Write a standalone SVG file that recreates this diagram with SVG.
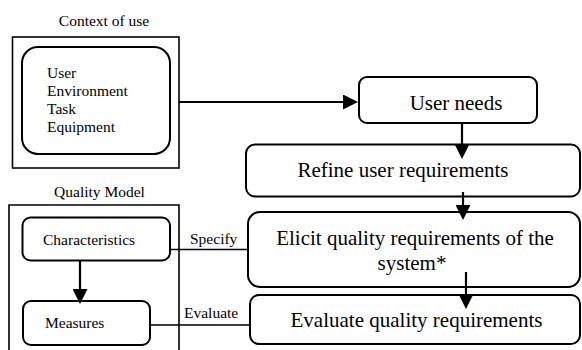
<svg xmlns="http://www.w3.org/2000/svg" width="582" height="350" viewBox="0 0 582 350">
<style>
  text { font-family: "Liberation Serif", "Times New Roman", serif; fill: #000; }
  .big { font-size: 21px; text-anchor: middle; }
  .small { font-size: 15.5px; }
  .title { font-size: 15.5px; text-anchor: middle; }
  .frame { fill: #fff; stroke: #000; stroke-width: 1.6; }
  .node { fill: #fff; stroke: #000; stroke-width: 2; }
  .arrow { stroke: #000; stroke-width: 2.2; fill: none; marker-end: url(#ah); }
  .link { stroke: #000; stroke-width: 1.5; fill: none; }
</style>
<defs>
  <marker id="ah" markerUnits="userSpaceOnUse" markerWidth="15" markerHeight="15" refX="10" refY="7.5" orient="auto">
    <path d="M0,0 L15,7.5 L0,15 Z" fill="#000"/>
  </marker>
</defs>
<rect width="582" height="350" fill="#fff"/>

<g id="context-of-use">
  <text class="title" x="104" y="26">Context of use</text>
  <rect class="frame" x="12.5" y="37" width="166.5" height="131"/>
  <rect class="node" x="22" y="47" width="148" height="107" rx="16"/>
  <text class="small" x="47" y="78">User</text>
  <text class="small" x="47" y="96">Environment</text>
  <text class="small" x="47" y="114">Task</text>
  <text class="small" x="47" y="132">Equipment</text>
</g>

<g id="quality-model">
  <text class="title" x="99.5" y="197">Quality Model</text>
  <path class="frame" d="M9,352 V205 H179 V352" />
</g>

<g id="characteristics">
  <rect class="node" x="22.5" y="217.5" width="147.5" height="43" rx="8"/>
  <text class="small" x="43" y="245">Characteristics</text>
</g>

<g id="measures">
  <rect class="node" x="23" y="301" width="127" height="44" rx="8"/>
  <text class="small" x="45" y="328">Measures</text>
</g>

<g id="user-needs">
  <rect class="node" x="359" y="77" width="178" height="46" rx="8"/>
  <text class="big" x="456" y="110">User needs</text>
</g>

<g id="refine">
  <rect class="node" x="246" y="144.5" width="334" height="52" rx="9"/>
  <text class="big" x="403" y="177">Refine user requirements</text>
</g>

<g id="elicit">
  <rect class="node" x="248" y="212" width="332" height="75" rx="12"/>
  <text class="big" x="415" y="245">Elicit quality requirements of the</text>
  <text class="big" x="412" y="270">system*</text>
</g>

<g id="evaluate">
  <rect class="node" x="250" y="295" width="330" height="49" rx="9"/>
  <text class="big" x="416.5" y="327">Evaluate quality requirements</text>
</g>

<g id="connectors">
  <line class="arrow" x1="179" y1="102" x2="353" y2="102"/>
  <line class="arrow" x1="462" y1="123" x2="462" y2="154"/>
  <line class="arrow" x1="463" y1="192" x2="463" y2="215"/>
  <line class="arrow" x1="466" y1="272" x2="466" y2="304"/>
  <line class="arrow" x1="80" y1="261" x2="80" y2="299"/>
  <line class="link" x1="170" y1="249.5" x2="248" y2="249.5"/>
  <line class="link" x1="150" y1="325" x2="250" y2="325"/>
  <text class="small" x="190" y="244">Specify</text>
  <text class="small" x="184" y="318">Evaluate</text>
</g>
</svg>
